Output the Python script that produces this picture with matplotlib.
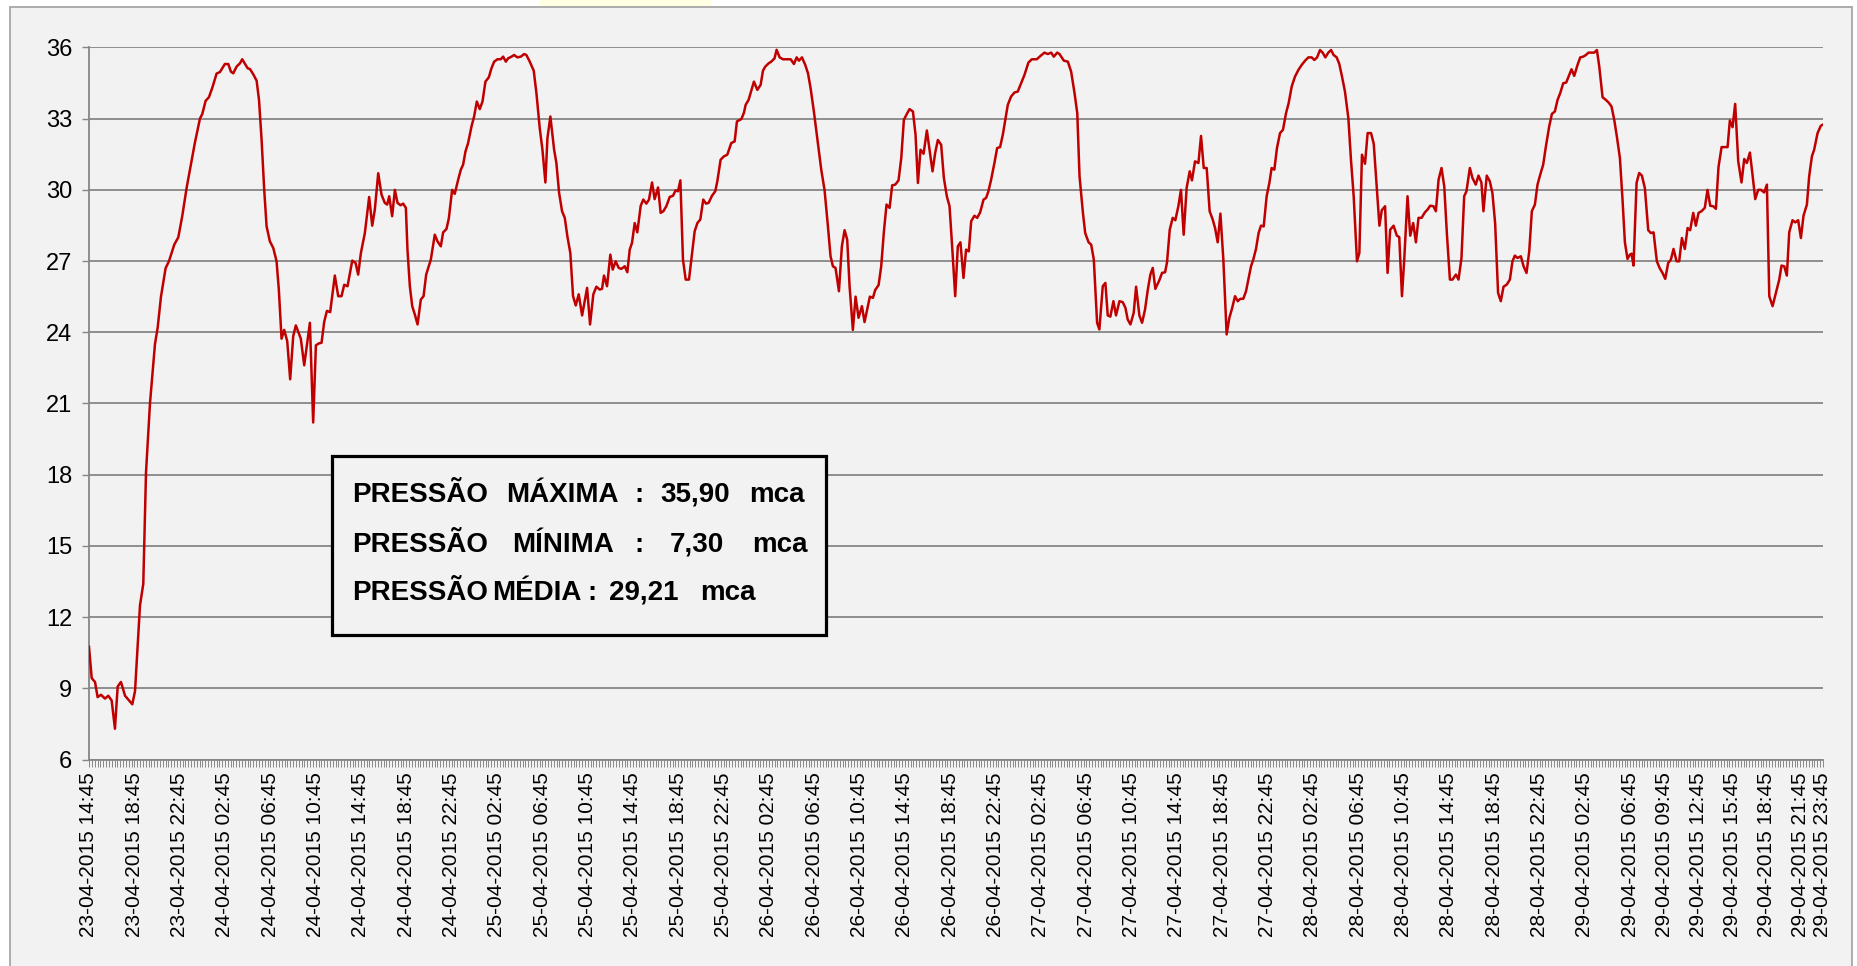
import matplotlib
matplotlib.use('Agg')
import matplotlib.pyplot as plt
from matplotlib.patches import Rectangle
from datetime import datetime, timedelta
import numpy as np

plt.rcParams['font.family'] = ['Liberation Sans', 'DejaVu Sans']

# ---------------- data (hours after 23-04-2015 14:45, pressure in mca) ----------------
hours_1 = [0.00, 0.24, 0.53, 0.76, 1.06, 1.41, 1.70, 2.00, 2.29, 2.53, 2.82, 3.18, 3.47, 3.82,
           4.06, 4.50, 4.79, 5.03, 5.38, 5.82, 6.06, 6.35, 6.76, 7.06, 7.53, 7.88, 8.23, 8.62,
           9.00, 9.35, 9.79, 10.00, 10.29, 10.58, 10.88, 11.26, 11.55]
press_1 = [10.75, 9.43, 9.27, 8.63, 8.73, 8.57, 8.69, 8.49, 7.30, 9.08, 9.27, 8.69, 8.53, 8.33,
           8.88, 12.5, 13.4, 18.1, 21.0, 23.5, 24.2, 25.5, 26.7, 27.0, 27.7, 28.0, 28.9, 30.1,
           31.1, 32.0, 33.0, 33.2, 33.75, 33.9, 34.3, 34.9, 34.96]

hours_2 = [11.99, 12.29, 12.52, 12.73, 13.02, 13.32, 13.52, 14.00, 14.20, 14.49, 14.79, 15.00,
           15.23, 15.46, 15.67, 15.96, 16.26, 16.55, 16.75, 16.99, 17.22, 17.49, 17.75, 18.02,
           18.25, 18.69, 18.99, 19.49, 19.78, 20.02, 20.28, 20.52, 20.75, 20.99, 21.28, 21.69,
           21.99, 22.28, 22.52, 22.81, 23.23, 23.52, 23.75, 23.99, 24.34, 24.72, 24.99, 25.22,
           25.52, 25.81, 26.10, 26.31, 26.49, 26.75, 26.99, 27.22, 27.49, 27.72, 27.96, 28.10,
           28.31, 28.52, 28.75, 28.99, 29.28, 29.52, 29.75, 30.16, 30.51, 30.75, 31.04, 31.25,
           31.54, 31.75, 32.04, 32.27, 32.57, 32.81, 33.01, 33.22, 33.45, 33.75, 33.98, 34.22,
           34.48, 34.72, 34.98, 35.28, 35.51, 35.75, 36.04, 36.33, 36.54, 36.78, 36.98, 37.28,
           37.51, 37.80, 38.10, 38.39]
press_2 = [35.30, 35.30, 34.98, 34.91, 35.19, 35.33, 35.50, 35.12, 35.09, 34.87, 34.60, 33.79,
           32.10, 30.00, 28.46, 27.83, 27.55, 26.99, 25.80, 23.73, 24.10, 23.63, 22.02, 23.84,
           24.29, 23.73, 22.61, 24.40, 20.20, 23.45, 23.53, 23.56, 24.43, 24.90, 24.85, 26.39,
           25.52, 25.52, 26.00, 25.94, 27.02, 26.92, 26.43, 27.34, 28.18, 29.70, 28.49, 29.17,
           30.70, 29.80, 29.45, 29.38, 29.73, 28.89, 30.00, 29.45, 29.35, 29.42, 29.24, 27.48,
           25.94, 25.10, 24.75, 24.33, 25.38, 25.52, 26.43, 27.06, 28.11, 27.83, 27.62, 28.21,
           28.35, 28.80, 30.00, 29.83, 30.42, 30.85, 31.06, 31.62, 31.97, 32.67, 33.09, 33.72,
           33.40, 33.72, 34.56, 34.74, 35.12, 35.40, 35.50, 35.50, 35.61, 35.40, 35.54, 35.61,
           35.68, 35.58, 35.61, 35.72]

hours_3 = [38.59, 38.89, 39.24, 39.48, 39.77, 40.01, 40.27, 40.45, 40.71, 41.04, 41.24, 41.48,
           41.74, 41.98, 42.21, 42.47, 42.71, 42.95, 43.21, 43.51, 43.95, 44.21, 44.50, 44.77,
           45.06, 45.27, 45.44, 45.71, 46.00, 46.21, 46.47, 46.74, 46.97, 47.27, 47.50, 47.71,
           47.91, 48.15, 48.38, 48.68, 48.91, 49.18, 49.41, 49.68, 49.91, 50.21, 50.44, 50.68,
           50.94, 51.24, 51.53, 51.76, 51.97, 52.18, 52.41, 52.65, 52.94, 53.15, 53.44, 53.68,
           53.94, 54.20, 54.44, 54.67, 54.97, 55.26, 55.44, 55.73, 56.02, 56.32, 56.67, 56.97,
           57.17, 57.56, 57.79, 57.94, 58.20, 58.67, 58.97, 59.26, 59.47, 59.67, 59.97, 60.20,
           60.49, 60.67, 60.94, 61.23, 61.91, 62.20, 62.44, 62.64, 62.91, 63.20, 63.44, 63.67]
press_3 = [35.68, 35.40, 35.02, 34.07, 32.60, 31.69, 30.31, 32.18, 33.09, 31.69, 31.13, 29.87,
           29.10, 28.82, 28.04, 27.34, 25.52, 25.13, 25.60, 24.71, 25.87, 24.33, 25.60, 25.92,
           25.80, 25.83, 26.39, 25.94, 27.27, 26.64, 26.99, 26.71, 26.67, 26.78, 26.53, 27.48,
           27.76, 28.60, 28.21, 29.33, 29.59, 29.42, 29.59, 30.31, 29.61, 30.10, 29.03, 29.10,
           29.31, 29.70, 29.75, 29.98, 29.94, 30.40, 27.06, 26.22, 26.22, 27.06, 28.25, 28.60,
           28.75, 29.59, 29.42, 29.45, 29.75, 29.94, 30.36, 31.27, 31.41, 31.48, 31.97, 32.04,
           32.88, 32.98, 33.25, 33.58, 33.79, 34.56, 34.21, 34.42, 35.02, 35.19, 35.33, 35.40,
           35.54, 35.90, 35.58, 35.50, 35.50, 35.30, 35.58, 35.44, 35.58, 35.26, 34.91, 34.28]

hours_4 = [63.96, 64.26, 64.61, 64.90, 65.20, 65.43, 65.64, 65.87, 66.17, 66.43, 66.67, 66.90,
           67.11, 67.40, 67.64, 67.90, 68.20, 68.43, 68.90, 69.17, 69.37, 69.67, 69.90, 70.14,
           70.37, 70.64, 70.87, 71.14, 71.43, 71.67, 71.90, 72.20, 72.40, 72.70, 72.93, 73.14,
           73.37, 73.64, 73.93, 74.17, 74.43, 74.66, 74.90, 75.19, 75.43, 75.69, 75.93, 76.16,
           76.43, 76.66, 76.89, 77.16, 77.39, 77.63, 77.84, 78.13, 78.37, 78.63, 78.93, 79.16,
           79.36, 79.60, 79.89, 80.13, 80.39, 80.63, 81.07, 81.36, 81.66, 81.95, 82.25, 82.54,
           82.89, 83.19, 83.63, 83.95, 84.31, 84.60, 84.90, 85.13, 85.43, 85.63, 86.02, 86.37,
           86.66, 86.96, 87.20, 87.40, 87.70, 87.90, 88.20, 88.43, 88.66]
press_4 = [33.30, 32.18, 30.85, 30.00, 28.46, 27.20, 26.78, 26.71, 25.73, 27.62, 28.30, 27.90,
           25.94, 24.10, 25.50, 24.61, 25.10, 24.43, 25.50, 25.45, 25.78, 25.99, 26.78, 28.25,
           29.38, 29.24, 30.19, 30.22, 30.40, 31.34, 32.95, 33.23, 33.40, 33.30, 32.32, 30.29,
           31.69, 31.52, 32.50, 31.69, 30.78, 31.55, 32.10, 31.90, 30.50, 29.73, 29.31, 27.62,
           25.52, 27.62, 27.79, 26.29, 27.48, 27.41, 28.68, 28.91, 28.82, 29.05, 29.59, 29.66,
           29.94, 30.43, 31.13, 31.76, 31.80, 32.32, 33.58, 33.93, 34.10, 34.14, 34.49, 34.84,
           35.36, 35.50, 35.50, 35.64, 35.78, 35.72, 35.78, 35.61, 35.78, 35.72, 35.44, 35.40,
           34.98, 34.07, 33.23, 30.57, 29.03, 28.18, 27.79, 27.69, 27.06]

hours_5 = [88.95, 89.15, 89.45, 89.68, 89.89, 90.12, 90.39, 90.62, 90.92, 91.21, 91.45, 91.65,
           91.89, 92.18, 92.39, 92.68, 92.92, 93.18, 93.42, 93.65, 93.86, 94.09, 94.45, 94.68,
           94.95, 95.12, 95.36, 95.62, 95.85, 96.12, 96.35, 96.59, 96.85, 97.12, 97.32, 97.59,
           97.89, 98.12, 98.36, 98.62, 98.88, 99.15, 99.36, 99.59, 99.83, 100.09, 100.38, 100.62,
           100.85, 101.12, 101.36, 101.59, 101.85, 102.09, 102.32, 102.53, 102.73, 102.97, 103.20,
           103.41, 103.65, 103.91, 104.15, 104.35, 104.59, 104.82, 105.09, 105.35, 105.62, 105.85,
           106.12, 106.41, 106.71, 107.00, 107.30, 107.59, 107.88, 108.12, 108.36, 108.62, 108.85,
           109.09, 109.35, 109.59, 109.82, 110.09, 110.32, 110.56, 110.82, 111.12, 111.35, 111.59,
           111.88, 112.09, 112.32, 112.59, 112.82, 113.12, 113.36, 113.62, 113.86, 114.07, 114.36]
press_5 = [24.40, 24.12, 25.94, 26.08, 24.71, 24.66, 25.31, 24.71, 25.31, 25.27, 25.03, 24.54,
           24.33, 24.82, 25.92, 24.71, 24.40, 24.96, 25.78, 26.43, 26.71, 25.83, 26.20, 26.50,
           26.53, 26.95, 28.32, 28.82, 28.72, 29.31, 30.00, 28.11, 30.08, 30.78, 30.40, 31.20,
           31.13, 32.27, 30.92, 30.92, 29.10, 28.75, 28.39, 27.79, 29.00, 27.06, 23.91, 24.61,
           24.99, 25.52, 25.31, 25.41, 25.41, 25.73, 26.29, 26.78, 27.06, 27.51, 28.18,
           28.49, 28.46, 29.73, 30.29, 30.92, 30.85, 31.76, 32.39, 32.53, 33.23, 33.65,
           34.35, 34.77, 35.05, 35.26, 35.44, 35.58, 35.58, 35.47, 35.58, 35.89, 35.78,
           35.58, 35.78, 35.89, 35.68, 35.58, 35.30, 34.77, 34.14, 33.02, 31.27, 29.73,
           26.99, 27.34, 31.48, 31.10, 32.39, 32.39, 31.94, 30.15, 28.49, 29.14, 29.31]

hours_6 = [114.58, 114.81, 115.11, 115.40, 115.61, 115.85, 116.05, 116.34, 116.58, 116.84, 117.08,
           117.31, 117.58, 117.87, 118.11, 118.34, 118.63, 118.84, 119.08, 119.34, 119.58, 119.81,
           120.08, 120.31, 120.61, 120.84, 121.10, 121.34, 121.54, 121.84, 122.07, 122.36, 122.60,
           122.86, 123.04, 123.33, 123.60, 123.83, 124.07, 124.33, 124.57, 124.81, 125.10, 125.37,
           125.60, 125.81, 126.04, 126.34, 126.58, 126.84, 127.08, 127.31, 127.58, 127.81, 128.05,
           128.31, 128.55, 128.84, 129.08, 129.34, 129.58, 129.81, 130.08, 130.34, 130.55, 130.81,
           131.05, 131.34, 131.58, 131.84, 132.08, 132.31, 132.58, 132.81, 133.05, 133.26, 133.55,
           133.84, 134.08, 134.34, 134.58, 134.81, 135.08, 135.31, 135.52, 135.75, 135.96, 136.11,
           136.28, 136.55, 136.78, 137.02, 137.28, 137.58, 137.81, 138.05, 138.34, 138.58, 138.84,
           139.08, 139.34, 139.58, 139.81, 140.08, 140.31, 140.55, 140.81, 141.05, 141.28, 141.55,
           141.78, 142.02, 142.28, 142.57, 142.81, 143.05, 143.31, 143.55, 143.78, 144.05, 144.28,
           144.58, 144.78, 145.02, 145.25, 145.52, 145.81, 146.05, 146.28, 146.55, 146.78, 147.02,
           147.28, 147.52, 147.81, 148.05, 148.26, 148.55, 148.84, 149.14, 149.34, 149.58, 149.81,
           150.02, 150.31, 150.55, 150.81, 151.05, 151.28, 151.58, 151.78, 152.02, 152.22, 152.52,
           152.81, 153.00]
press_6 = [26.50, 28.32, 28.49, 28.07, 28.01, 25.52, 27.06, 29.73, 28.07, 28.60, 27.79,
           28.82, 28.82, 29.05, 29.17, 29.33, 29.31, 29.10, 30.43, 30.92, 30.15, 28.18,
           26.22, 26.22, 26.43, 26.22, 27.13, 29.73, 29.94, 30.92, 30.50, 30.22, 30.60,
           30.31, 29.10, 30.60, 30.36, 29.87, 28.60, 25.66, 25.31, 25.92, 26.01, 26.22,
           26.99, 27.23, 27.13, 27.20, 26.78, 26.50, 27.41, 29.10, 29.38, 30.22, 30.64,
           31.06, 31.83, 32.67, 33.20, 33.30, 33.79, 34.07, 34.49, 34.52, 34.77, 35.08,
           34.80, 35.26, 35.58, 35.61, 35.68, 35.78, 35.78, 35.78, 35.89, 35.19, 33.90,
           33.79, 33.68, 33.51, 32.95, 32.25, 31.34, 29.59, 27.79, 27.09, 27.27, 27.31,
           26.81, 30.29, 30.71, 30.60, 30.08, 28.30, 28.18, 28.21, 26.99, 26.71, 26.50,
           26.25, 26.92, 27.06, 27.51, 26.99, 26.99, 27.97, 27.51, 28.39, 28.30, 29.03,
           28.49, 29.03, 29.10, 29.24, 30.00, 29.33, 29.31, 29.20, 30.96, 31.80, 31.80,
           31.80, 32.92, 32.64, 33.62, 31.20, 30.31, 31.30, 31.13, 31.57, 30.64, 29.61,
           30.00, 30.00, 29.89, 30.22, 25.52, 25.10, 25.66, 26.22, 26.81, 26.78, 26.39,
           28.21, 28.72, 28.63, 28.72, 27.97, 28.91, 29.38, 30.57, 31.41, 31.69, 32.39,
           32.70, 32.75]

hours = hours_1 + hours_2 + hours_3 + hours_4 + hours_5 + hours_6
pressure = press_1 + press_2 + press_3 + press_4 + press_5 + press_6

y_ticks = [6, 9, 12, 15, 18, 21, 24, 27, 30, 33, 36]
start_time = datetime(2015, 4, 23, 14, 45)
label_hours = list(range(0, 137, 4)) + [139, 142, 145, 148, 151, 153]
x_labels = [(start_time + timedelta(hours=h)).strftime('%d-%m-%Y %H:%M') for h in label_hours]

box_lines = [
    [("PRESSÃO", 352), ("MÁXIMA", 506), (":", 634), ("35,90", 660), ("mca", 749)],
    [("PRESSÃO", 352), ("MÍNIMA", 512), (":", 634), ("7,30", 670), ("mca", 752)],
    [("PRESSÃO", 352), ("MÉDIA", 492), (":", 587), ("29,21", 609), ("mca", 700)],
]
box_baselines = [502, 552, 600]

# ---------------- figure ----------------
W, H = 1858, 966
fig = plt.figure(figsize=(W / 100, H / 100), dpi=100)
fig.patch.set_facecolor('white')

def fx(px):
    return px / W

def fy(py):
    return 1 - py / H

# chart area
fig.add_artist(Rectangle((fx(10.5), -0.02), fx(1852 - 10.5), fy(7) + 0.02,
                         transform=fig.transFigure, facecolor='#F2F2F2',
                         edgecolor='#A6A6A6', lw=1.3, zorder=-2))
fig.add_artist(Rectangle((fx(540), fy(6)), fx(172), 6 / H, transform=fig.transFigure,
                         facecolor='#FFFFE3', edgecolor='none', zorder=-1))

ax = fig.add_axes([fx(89), fy(759.6), fx(1823 - 89), (759.6 - 47.4) / H])
ax.set_facecolor('#F2F2F2')
ax.plot(hours, pressure, color='#C00000', lw=1.8, zorder=3, solid_joinstyle='round')

ax.set_xlim(0, 153)
ax.set_ylim(6, 36)
ax.set_yticks(y_ticks)
ax.set_yticklabels([str(v) for v in y_ticks])
ax.yaxis.grid(True, color='#868686', lw=1.3)
ax.set_axisbelow(True)
for s in ['top', 'right']:
    ax.spines[s].set_visible(False)
for s in ['left', 'bottom']:
    ax.spines[s].set_color('#868686')
    ax.spines[s].set_linewidth(1.3)

ax.tick_params(axis='y', length=5, color='#868686', width=1.0, labelsize=17, pad=7,
               labelcolor='black')
ax.set_xticks(label_hours)
ax.set_xticklabels(x_labels, rotation=90, fontsize=15)
ax.set_xticks(np.arange(0, 153.01, 0.25), minor=True)
ax.tick_params(axis='x', which='both', length=5, color='#868686', width=0.7, pad=4)

# statistics box
fig.add_artist(Rectangle((fx(332), fy(635)), fx(826 - 332), (635 - 456) / H,
                         transform=fig.transFigure, facecolor='#F2F2F2',
                         edgecolor='black', lw=2.3, zorder=5))
for line, base in zip(box_lines, box_baselines):
    for token, px in line:
        fig.text(fx(px), fy(base), token, fontsize=20, fontweight='bold',
                 ha='left', va='baseline', color='black', zorder=6)

fig.savefig('out.png', dpi=100, facecolor=fig.get_facecolor())
